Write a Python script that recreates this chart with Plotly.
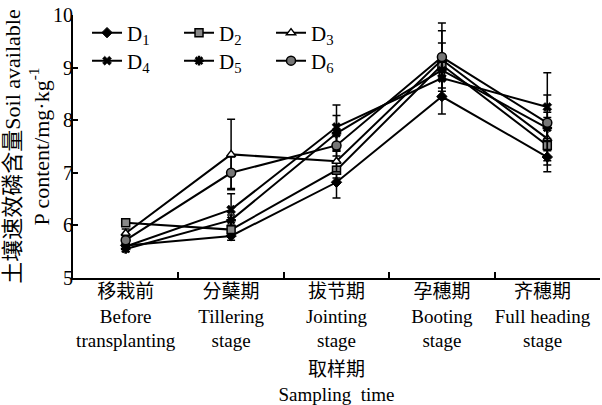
import plotly.graph_objects as go

categories = ["移栽前<br>Before<br>transplanting", "分蘖期<br>Tillering<br>stage",
              "拔节期<br>Jointing<br>stage", "孕穗期<br>Booting<br>stage",
              "齐穗期<br>Full heading<br>stage"]

series_names = ["D<sub>1</sub>", "D<sub>2</sub>", "D<sub>3</sub>",
                "D<sub>4</sub>", "D<sub>5</sub>", "D<sub>6</sub>"]

D1 = [5.62, 5.80, 6.82, 8.45, 7.30]
D2 = [6.05, 5.92, 7.05, 9.05, 7.52]
D3 = [5.85, 7.35, 7.22, 9.15, 7.65]
D4 = [5.60, 6.30, 7.87, 8.80, 8.25]
D5 = [5.55, 6.10, 7.75, 8.95, 7.85]
D6 = [5.72, 7.00, 7.52, 9.20, 7.95]

E1 = [0.06, 0.08, 0.30, 0.33, 0.28]
E2 = [0.05, 0.08, 0.15, 0.65, 0.29]
E3 = [0.08, 0.67, 0.20, 0.32, 0.50]
E4 = [0.05, 0.30, 0.42, 0.19, 0.65]
E5 = [0.05, 0.10, 0.34, 0.15, 0.20]
E6 = [0.06, 0.30, 0.20, 0.65, 0.53]

values = [D1, D2, D3, D4, D5, D6]
errors = [E1, E2, E3, E4, E5, E6]

styles = [
    dict(symbol="diamond", size=8, color="black", line=dict(color="black", width=1)),
    dict(symbol="square", size=8, color="#888888", line=dict(color="black", width=1.5)),
    dict(symbol="triangle-up", size=8, color="white", line=dict(color="black", width=1.5)),
    dict(symbol="x", size=8, color="black", line=dict(color="black", width=0.5)),
    dict(symbol="asterisk", size=8, color="black", line=dict(color="black", width=2.5)),
    dict(symbol="circle", size=9, color="#777777", line=dict(color="black", width=1.5)),
]

FONT = "Liberation Serif, Times New Roman, Noto Sans CJK SC, serif"

# last label is nudged left (as in the original) by padding each line on the right
pad = "\u00a0" * 2
tick_text = categories[:-1] + ["<br>".join(l + pad for l in categories[-1].split("<br>"))]

fig = go.Figure()
for i, (name, y, e, st) in enumerate(zip(series_names, values, errors, styles)):
    fig.add_trace(go.Scatter(
        x=categories, y=y, name=name, mode="lines+markers",
        line=dict(color="black", width=2),
        marker=st,
        error_y=dict(type="data", array=e, visible=True, color="black",
                     thickness=1.5, width=4),
        legend="legend" if i < 3 else "legend2",
    ))

legend_common = dict(orientation="h", xanchor="left", yanchor="middle",
                     font=dict(family=FONT, size=21, color="black"),
                     bgcolor="rgba(0,0,0,0)", entrywidth=47, entrywidthmode="pixels",
                     itemwidth=30, tracegroupgap=0)

fig.update_layout(
    width=602, height=405,
    margin=dict(l=73, r=2, t=15, b=127),
    paper_bgcolor="white", plot_bgcolor="white",
    font=dict(family=FONT, size=19, color="black"),
    legend=dict(x=0.0266, y=(278 - 33) / 263, **legend_common),
    legend2=dict(x=0.0266, y=(278 - 61) / 263, **legend_common),
    xaxis=dict(
        type="category", range=[-0.5, 4.5], automargin=False,
        showline=True, linecolor="black", linewidth=2,
        ticks="inside", ticklen=6, tickwidth=1.5, tickcolor="black",
        tickson="boundaries", showgrid=False, zeroline=False, tickangle=0,
        tickmode="array", tickvals=categories, ticktext=tick_text,
        tickfont=dict(family=FONT, size=19, color="black"),
        ticklabelstandoff=-5,
        title=dict(text="取样期<br>Sampling  time", standoff=15,
                   font=dict(family=FONT, size=19, color="black")),
    ),
    yaxis=dict(
        range=[5, 10], dtick=1, tick0=5, automargin=False,
        showline=True, linecolor="black", linewidth=2,
        ticks="inside", ticklen=5, tickwidth=1.5, tickcolor="black",
        showgrid=False, zeroline=False,
        tickfont=dict(family=FONT, size=20, color="black"),
        ticklabelstandoff=-6,
        title=dict(text="土壤速效磷含量Soil available<br>P content/mg·kg<sup>-1</sup>",
                   standoff=0, font=dict(family=FONT, size=22, color="black")),
    ),
)

fig.write_html("out.html", config={"displayModeBar": False},
               post_script="document.body.style.margin='0';document.body.style.overflow='hidden';")
